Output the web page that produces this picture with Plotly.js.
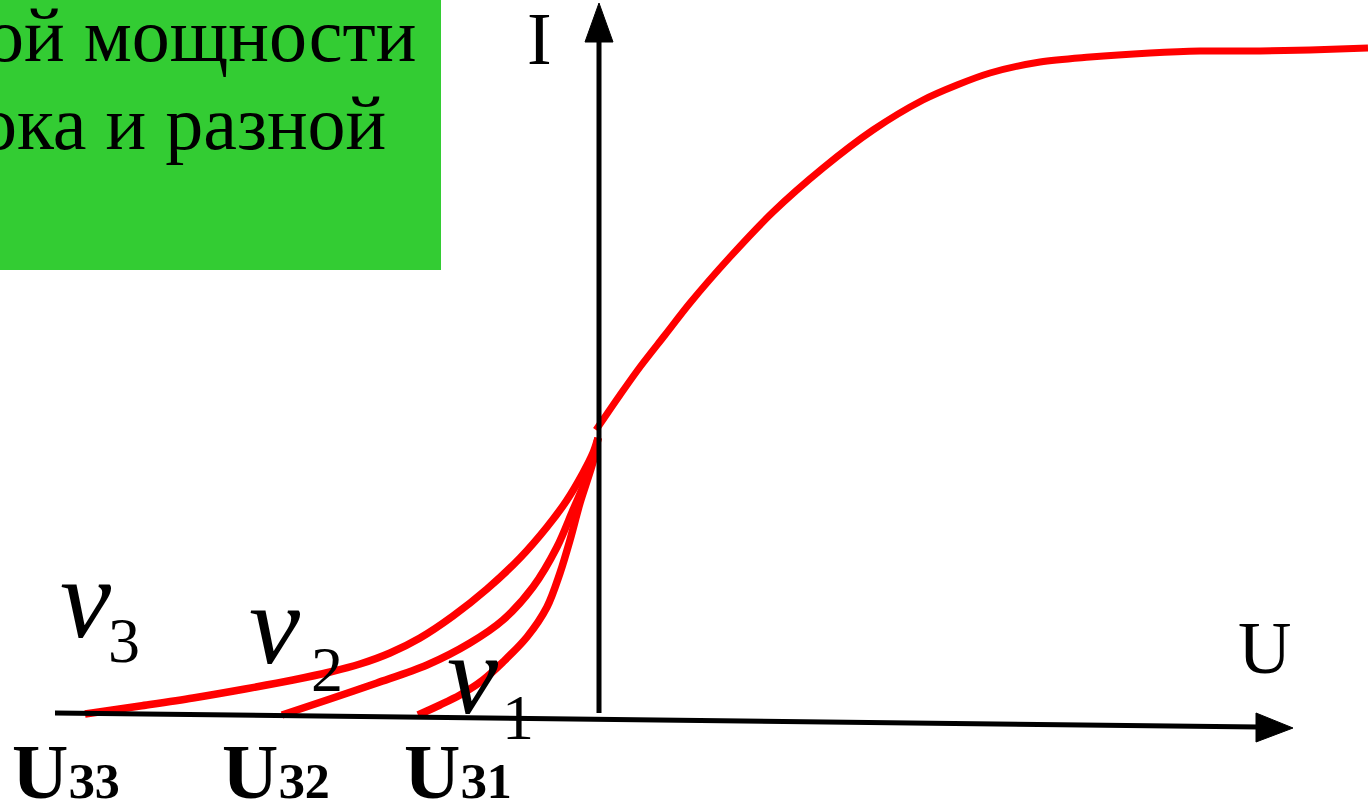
<!DOCTYPE html>
<html>
<head>
<meta charset="utf-8">
<script src="https://cdn.plot.ly/plotly-3.0.1.min.js"></script>
<style>html,body{margin:0;padding:0;background:#fff;overflow:hidden}#chart{width:1368px;height:799px}</style>
</head>
<body>
<div id="chart"></div>
<script>
// Common branch of the I(U) characteristic (above the crossing point)
const mainU = [-3, 21, 41, 66, 91, 131, 174, 224, 274, 324, 358, 391, 441, 491, 551, 601, 661, 711, 769];
const mainI = [290, 325, 353, 385, 417, 463, 508, 552, 590, 620, 635, 647, 658, 663, 667, 669, 669, 670, 672];
// Branches for v3, v2, v1 (from ignition voltage Uз to the crossing point)
const v3U = [-514, -459, -406, -354, -306, -269, -239, -209, -179, -146, -112, -79, -52, -32, -16, -6, -1];
const v3I = [6, 14, 22, 31, 40, 48, 56, 67, 82, 104, 131, 162, 193, 220, 247, 267, 282];
const v2U = [-317, -272, -222, -172, -129, -96, -66, -42, -26, -12, -4, -1];
const v2I = [5, 20, 37, 55, 77, 100, 133, 173, 210, 243, 267, 282];
const v1U = [-181, -159, -139, -116, -96, -72, -52, -39, -29, -19, -9, -4, -1];
const v1I = [5, 15, 25, 40, 58, 83, 113, 147, 180, 217, 248, 265, 282];

// Text labels
const boxLines = ["ой мощности", "ока и разной"];
const curveNames = ["ν", "ν", "ν"];
const curveSubs = ["3", "2", "1"];
const ignitionLabels = ["3", "2", "1"];
const axisNames = ["I", "U"];

const RED = "#FF0000";
const SERIF = "Liberation Serif, Times New Roman, serif";

function line(u, i, w) {
  return {x: u, y: i, type: "scatter", mode: "lines", line: {color: RED, width: w, shape: "spline", smoothing: 0.9}, hoverinfo: "skip", cliponaxis: false};
}
const traces = [line(v3U, v3I, 7.5), line(v2U, v2I, 7.5), line(v1U, v1I, 7.5), line(mainU, mainI, 7)];

const shapes = [
  {type: "rect", xref: "x", yref: "y", x0: -599, x1: -158, y0: 450, y1: 730, fillcolor: "#33CC33", line: {width: 0}, layer: "below"},
  // U axis
  {type: "line", xref: "x", yref: "y", x0: -544, y0: 7, x1: 660, y1: -7, line: {color: "#000", width: 5}},
  {type: "path", xref: "x", yref: "y", path: "M 694,-8 L 657,7 L 657,-22 Z", fillcolor: "#000", line: {color: "#000", width: 1}},
  // I axis
  {type: "line", xref: "x", yref: "y", x0: 0, y0: 7, x1: 0, y1: 680, line: {color: "#000", width: 5}},
  {type: "path", xref: "x", yref: "y", path: "M 0,717 L -14,678 L 14,678 Z", fillcolor: "#000", line: {color: "#000", width: 1}}
];

function ann(x, y, text, size, opts) {
  return Object.assign({x: x, y: y, xref: "x", yref: "y", text: text, showarrow: false,
    font: {family: SERIF, size: size, color: "#000"}, xanchor: "center", yanchor: "middle"}, opts || {});
}
const annotations = [
  ann(-181, 685, boxLines[0], 76, {xanchor: "right"}),
  ann(-211, 597, boxLines[1], 76, {xanchor: "right"}),
  ann(-60, 681, axisNames[0], 74),
  ann(665, 72, axisNames[1], 74),
  // ν labels
  ann(-513, 122, "<i>" + curveNames[0] + "</i>", 115),
  ann(-475, 80, curveSubs[0], 64),
  ann(-324, 96, "<i>" + curveNames[1] + "</i>", 115),
  ann(-272, 51, curveSubs[1], 64),
  ann(-126, 46, "<i>" + curveNames[2] + "</i>", 115),
  ann(-81, 3, curveSubs[2], 64)
];
const ignX = [-589, -379, -197];
for (let k = 0; k < 3; k++) {
  annotations.push(ann(ignX[k], -51,
    "<b>U<span style='font-size:50px'>З" + ignitionLabels[k] + "</span></b>", 78,
    {xanchor: "left"}));
}

const layout = {
  width: 1368, height: 799,
  margin: {l: 0, r: 0, t: 0, b: 0, pad: 0},
  paper_bgcolor: "#fff", plot_bgcolor: "#fff",
  showlegend: false,
  xaxis: {range: [-599, 769], visible: false, fixedrange: true},
  yaxis: {range: [-79, 720], visible: false, fixedrange: true},
  shapes: shapes,
  annotations: annotations
};
Plotly.newPlot("chart", traces, layout, {displayModeBar: false, staticPlot: true});
</script>
</body>
</html>
